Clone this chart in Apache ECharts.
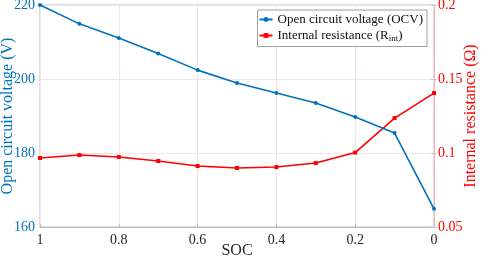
<!DOCTYPE html>
<html>
<head>
<meta charset="utf-8">
<script src="https://cdn.jsdelivr.net/npm/echarts@6/dist/echarts.min.js"></script>
<style>
html, body { margin: 0; padding: 0; background: #fff; }
#main { width: 484px; height: 262px; }
</style>
</head>
<body>
<div id="main"></div>
<script>
const soc = [1, 0.9, 0.8, 0.7, 0.6, 0.5, 0.4, 0.3, 0.2, 0.1, 0];
const ocv = [220, 214.9, 211.1, 206.9, 202.4, 198.9, 196.2, 193.5, 189.7, 185.4, 164.9];
const rint = [0.0966, 0.0986, 0.0973, 0.0946, 0.0912, 0.0899, 0.0905, 0.0932, 0.1003, 0.1236, 0.1405];
const leftTicks = [160, 180, 200, 220];
const rightTicks = [0.05, 0.1, 0.15, 0.2];

const blue = '#0072BD';
const red = '#FF0000';
const font = 'Liberation Serif';

const mychart = echarts.init(document.getElementById('main'));
const option = {
  animation: false,
  textStyle: { fontFamily: font },
  grid: {
    left: 40, right: 50, top: 5, bottom: 35,
    outerBoundsMode: 'none',
    containLabel: false,
    show: true, borderColor: '#bdbdbd', borderWidth: 1
  },
  legend: {
    right: 57, top: 10,
    orient: 'vertical',
    backgroundColor: '#fff',
    borderColor: '#9e9e9e',
    borderWidth: 1,
    padding: [3, 4, 3, 1],
    itemGap: 3,
    itemWidth: 13,
    itemHeight: 6,
    textStyle: {
      fontFamily: font, fontSize: 13, color: '#111',
      rich: {
        a: { fontFamily: font, fontSize: 13, color: '#111' },
        sub: { fontFamily: font, fontSize: 9, color: '#111', verticalAlign: 'bottom', padding: [7, 0, 0, 0] }
      }
    },
    formatter: function (name) {
      if (name === 'rint') return '{a|Internal resistance (R}{sub|int}{a|)}';
      return '{a|Open circuit voltage (OCV)}';
    },
    data: ['ocv', 'rint']
  },
  xAxis: {
    type: 'value',
    inverse: true,
    min: 0, max: 1, interval: 0.2,
    name: 'SOC',
    nameLocation: 'middle',
    nameGap: 16,
    nameMoveOverlap: false,
    nameTextStyle: { fontFamily: font, fontSize: 16, color: '#262626', verticalAlign: 'top' },
    axisLine: { lineStyle: { color: '#bdbdbd' } },
    axisTick: { inside: true, length: 3, lineStyle: { color: '#bdbdbd' } },
    axisLabel: { fontFamily: font, fontSize: 14, color: '#262626', margin: 6 },
    splitLine: { show: true, lineStyle: { color: '#f3e4ea', width: 1 } }
  },
  yAxis: [
    {
      type: 'value',
      min: leftTicks[0], max: leftTicks[leftTicks.length - 1], interval: 20,
      name: 'Open circuit voltage (V)',
      nameLocation: 'middle',
      nameGap: 24,
      nameMoveOverlap: false,
      nameTextStyle: { fontFamily: font, fontSize: 16, color: blue },
      axisLine: { show: true, lineStyle: { color: '#a9c9e6' } },
      axisTick: { show: true, inside: true, length: 3, lineStyle: { color: '#a9c9e6' } },
      axisLabel: { fontFamily: font, fontSize: 14, color: blue, margin: 5 },
      splitLine: { show: true, lineStyle: { color: '#f3e4ea', width: 1 } }
    },
    {
      type: 'value',
      position: 'right',
      min: rightTicks[0], max: rightTicks[rightTicks.length - 1], interval: 0.05,
      name: 'Internal resistance (Ω)',
      nameLocation: 'middle',
      nameGap: 29,
      nameMoveOverlap: false,
      nameTextStyle: { fontFamily: font, fontSize: 16, color: red },
      axisLine: { show: true, lineStyle: { color: '#ffb3b3' } },
      axisTick: { show: true, inside: true, length: 3, lineStyle: { color: '#ffb3b3' } },
      axisLabel: { fontFamily: font, fontSize: 14, color: red, margin: 4 },
      splitLine: { show: false }
    }
  ],
  series: [
    {
      name: 'ocv',
      type: 'line',
      yAxisIndex: 0,
      data: soc.map((s, i) => [s, ocv[i]]),
      symbol: 'circle',
      symbolSize: 4,
      itemStyle: { color: blue },
      lineStyle: { color: blue, width: 1.6 },
      z: 3
    },
    {
      name: 'rint',
      type: 'line',
      yAxisIndex: 1,
      data: soc.map((s, i) => [s, rint[i]]),
      symbol: 'rect',
      symbolSize: 4,
      itemStyle: { color: red },
      lineStyle: { color: red, width: 1.6 },
      z: 2
    }
  ]
};
mychart.setOption(option);
window.addEventListener('resize', function () { mychart.resize(); });
</script>
</body>
</html>
